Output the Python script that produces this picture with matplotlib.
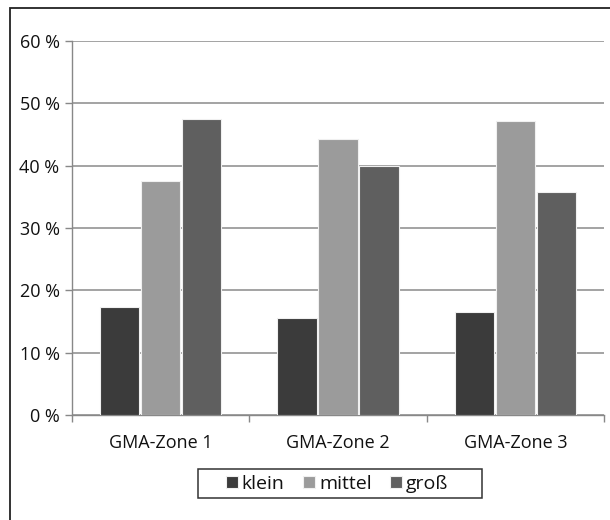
import matplotlib
matplotlib.use("Agg")
import matplotlib.pyplot as plt
from matplotlib.patches import Rectangle
import numpy as np

categories = ["GMA-Zone 1", "GMA-Zone 2", "GMA-Zone 3"]
series_names = ["klein", "mittel", "groß"]
klein = [17.4, 15.5, 16.6]
mittel = [37.5, 44.3, 47.1]
gross = [47.5, 39.9, 35.8]
y_ticks = [0, 10, 20, 30, 40, 50, 60]

colors = ["#3b3b3b", "#9b9b9b", "#5f5f5f"]

plt.rcParams["font.family"] = ["Open Sans", "DejaVu Sans"]
FS = 13

W, H = 610, 520
fig = plt.figure(figsize=(W / 100, H / 100), dpi=100)

# outer frame around the chart area
fig.patches.append(Rectangle((10 / W, -0.05), 1.2, 1 - 8 / H + 0.05,
                             transform=fig.transFigure, fill=False,
                             edgecolor="#222222", linewidth=1.3))

ax_left, ax_right = 72 / W, 604 / W
ax_top, ax_bottom = 1 - 41 / H, 1 - 415 / H
ax = fig.add_axes([ax_left, ax_bottom, ax_right - ax_left, ax_top - ax_bottom])

x = np.arange(len(categories))
bw = 0.222
step = 0.232
for i, (vals, c) in enumerate(zip([klein, mittel, gross], colors)):
    ax.bar(x + (i - 1) * step, vals, width=bw, color=c, edgecolor="#f0f0f0",
           linewidth=0.8, label=series_names[i], zorder=3)

ax.set_xlim(-0.5, 2.5)
ax.set_ylim(0, 60)
ax.set_yticks(y_ticks)
ax.set_yticklabels([f"{t} %" for t in y_ticks], fontsize=FS, color="#111111")
ax.set_xticks(x)
ax.set_xticklabels(categories, fontsize=FS, color="#111111")
ax.tick_params(axis="x", length=0, pad=14)
ax.tick_params(axis="y", length=5, color="#888888", width=1, pad=4)
ax.set_xticks([-0.5, 0.5, 1.5, 2.5], minor=True)
ax.tick_params(axis="x", which="minor", length=5, color="#888888", width=1)

ax.yaxis.grid(True, color="#8a8a8a", linewidth=1.1, zorder=0)
ax.set_axisbelow(True)
for s in ["top", "right"]:
    ax.spines[s].set_visible(False)
for s in ["left", "bottom"]:
    ax.spines[s].set_color("#888888")
    ax.spines[s].set_linewidth(1)

# legend box drawn separately to get the wide side padding
fig.patches.append(Rectangle((198 / W, 1 - 498 / H), (482 - 198) / W, (498 - 469) / H,
                             transform=fig.transFigure, fill=False,
                             edgecolor="#333333", linewidth=1.1))
leg = fig.legend(loc="center", bbox_to_anchor=(337 / W, 1 - 484 / H),
                 ncol=3, fontsize=14, frameon=False,
                 handlelength=0.62, handleheight=0.62, handletextpad=0.2,
                 columnspacing=0.95, borderpad=0.2)
for t in leg.get_texts():
    t.set_color("#111111")

fig.savefig("out.png", dpi=100)
